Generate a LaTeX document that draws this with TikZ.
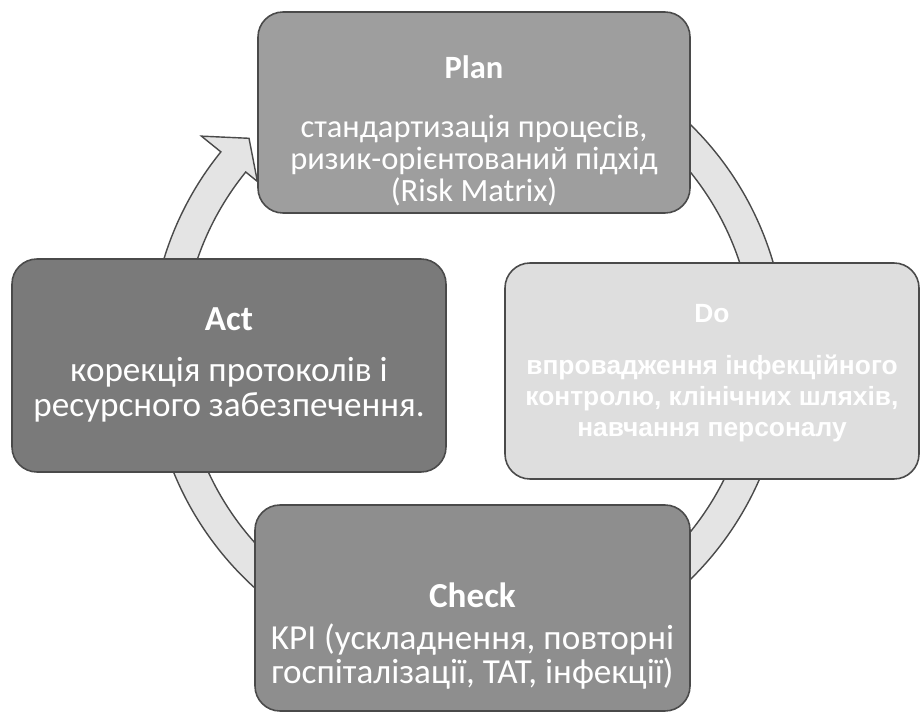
\documentclass[tikz,border=0pt]{standalone}
\usepackage{fontspec}
\setmainfont{Carlito}
\newfontfamily\arialfont{Liberation Sans}
\definecolor{ringfill}{HTML}{E4E4E4}
\definecolor{edgegray}{HTML}{4A4A4A}
\definecolor{planfill}{HTML}{9E9E9E}
\definecolor{dofill}{HTML}{DEDEDE}
\definecolor{actfill}{HTML}{7A7A7A}
\definecolor{checkfill}{HTML}{8E8E8E}
\tikzset{
  phase/.style={draw=edgegray, line width=0.9pt, rounded corners=5mm, inner sep=0pt},
  phasetext/.style={text=white, align=center, inner sep=0pt},
  ring/.style={draw=edgegray, line width=0.8pt, fill=ringfill}
}
\begin{document}
\begin{tikzpicture}
    \useasboundingbox[fill=white] (0,0) rectangle (18.44,14.48);
    % circular arrow behind the boxes
    \coordinate (hub) at (9.36,7.44);
    \begin{scope}[shift={(hub)}]
    \draw[ring] (60:6.36) arc[start angle=60, end angle=-219, radius=6.36cm]
        -- (-219:6.86) -- (-224.3:6.12) -- (-219:5.42) -- (-219:5.72)
        arc[start angle=-219, end angle=60, radius=5.72cm] -- cycle;
    \end{scope}
    % boxes
    \node[phase, fill=planfill, minimum width=8.64cm, minimum height=4.02cm] (plan) at (9.48,12.23) {};
    \node[phase, fill=dofill, minimum width=8.28cm, minimum height=4.32cm] (do) at (14.24,7.06) {};
    \node[phase, fill=actfill, minimum width=8.68cm, minimum height=4.26cm] (act) at (4.58,7.17) {};
    \node[phase, fill=checkfill, minimum width=8.7cm, minimum height=4.12cm] (check) at (9.45,2.32) {};
    % texts
    \node[phasetext, font=\fontsize{18.5}{18}\selectfont] (plan text) at ([yshift=-0.36cm]plan.center)
        {\textbf{Plan}\\[16pt] стандартизація процесів,\\ ризик-орієнтований підхід\\ (Risk Matrix)};
    \node[phasetext, font=\arialfont\bfseries\fontsize{15}{17.6}\selectfont] (do text) at ([yshift=-0.04cm]do.center)
        {Do\\[12pt] впровадження інфекційного\\ контролю, клінічних шляхів,\\ навчання персоналу};
    \node[phasetext, font=\fontsize{20}{19.5}\selectfont] (act text) at ([yshift=0.02cm]act.center)
        {\textbf{Act}\\[10pt] корекція протоколів і\\ ресурсного забезпечення.};
    \node[phasetext, font=\fontsize{20}{19.5}\selectfont] (check text) at ([yshift=-0.56cm]check.center)
        {\textbf{Check}\\[4.5pt] KPI (ускладнення, повторні\\ госпіталізації, TAT, інфекції)};
\end{tikzpicture}
\end{document}
